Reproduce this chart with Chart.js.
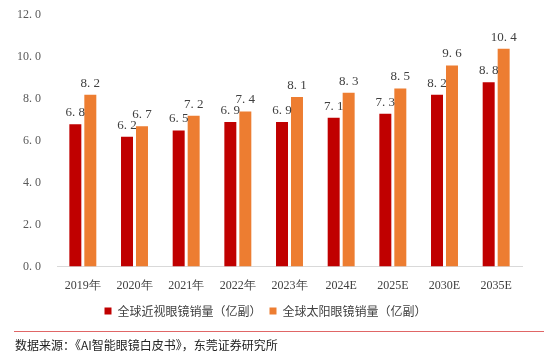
<!DOCTYPE html>
<html><head><meta charset="utf-8">
<script src="https://cdn.jsdelivr.net/npm/chart.js@4/dist/chart.umd.min.js"></script>
<style>html,body{margin:0;padding:0;background:#fff;}#w{width:554px;height:356px;position:relative;}</style>
</head><body><div id="w"><canvas id="c" width="554" height="356"></canvas></div>
<script>
const categories = ['2019年','2020年','2021年','2022年','2023年','2024E','2025E','2030E','2035E'];
const myopia = [6.8,6.2,6.5,6.9,6.9,7.1,7.3,8.2,8.8];
const sunglasses = [8.2,6.7,7.2,7.4,8.1,8.3,8.5,9.6,10.4];
const seriesNames = ['全球近视眼镜销量（亿副）','全球太阳眼镜销量（亿副）'];
const yTicks = [0,2,4,6,8,10,12];
const sourceText = '数据来源：《AI智能眼镜白皮书》，东莞证券研究所';

const numFont = '"Liberation Serif","DejaVu Serif",serif';
const cjkFont = '"Noto Sans CJK SC","Noto Sans",sans-serif';

const labelPlugin = {
  id:'labels',
  afterDatasetsDraw(chart){
    const ctx = chart.ctx;
    ctx.save();
    ctx.font = '13px ' + numFont;
    ctx.fillStyle = '#404040';
    ctx.textAlign = 'center';
    ctx.textBaseline = 'bottom';
    chart.data.datasets.forEach((ds,i)=>{
      chart.getDatasetMeta(i).data.forEach((bar,j)=>{
        ctx.fillText(ds.data[j].toFixed(1).replace('.','. '), bar.x, bar.y - 5);
      });
    });
    ctx.restore();
  },
  afterDraw(chart){
    const ctx = chart.ctx;
    ctx.save();
    ctx.strokeStyle = '#E06666';
    ctx.lineWidth = 1;
    ctx.beginPath(); ctx.moveTo(14,331.5); ctx.lineTo(544,331.5); ctx.stroke();
    ctx.font = '12px ' + cjkFont;
    ctx.fillStyle = '#222';
    ctx.textAlign='left'; ctx.textBaseline='middle';
    ctx.fillText(sourceText, 15, 345);
    ctx.restore();
  }
};

new Chart(document.getElementById('c'), {
  type:'bar',
  data:{
    labels: categories,
    datasets:[
      {label:seriesNames[0], data:myopia, backgroundColor:'#C00000', categoryPercentage:0.58, barPercentage:0.8},
      {label:seriesNames[1], data:sunglasses, backgroundColor:'#ED7D31', categoryPercentage:0.58, barPercentage:0.8}
    ]
  },
  options:{
    responsive:false, animation:false, devicePixelRatio:1,
    layout:{padding:{left:9,right:32,top:9,bottom:29}},
    plugins:{
      legend:{position:'bottom', labels:{boxWidth:7, boxHeight:7, padding:8, color:'#404040', font:{family:cjkFont, size:12}}},
      tooltip:{enabled:false}
    },
    scales:{
      x:{grid:{display:false}, border:{display:true,color:'#D9D9D9'},
         ticks:{color:'#404040', font:{family:numFont, size:12}, padding:4}},
      y:{min:0,max:12, afterBuildTicks(ax){ax.ticks = yTicks.map(v=>({value:v}));},
         grid:{display:false}, border:{display:false},
         ticks:{color:'#595959', font:{family:numFont, size:12}, padding:8, callback:v=>v.toFixed(1).replace('.','. ')}}
    }
  },
  plugins:[labelPlugin]
});
</script></body></html>
